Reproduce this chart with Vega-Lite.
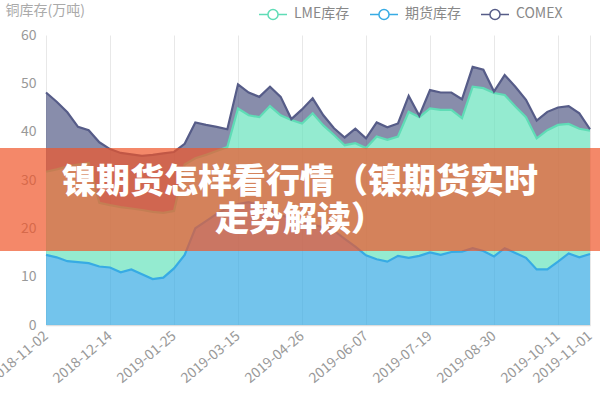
{
  "$schema": "https://vega.github.io/schema/vega-lite/v6.json",
  "width": 544,
  "height": 290,
  "autosize": {"type": "none"},
  "padding": {"left": 46, "top": 35, "right": 10, "bottom": 75},
  "background": "white",
  "config": {"view": {"stroke": null}, "font": "Noto Sans CJK SC"},
  "layer": [
    {
      "data": {"values": [
        {"date": "2018-11-02", "期货库存": 14.5, "LME库存": 17.2, "COMEX": 16.4},
        {"date": "2018-11-09", "期货库存": 14.0, "LME库存": 18.2, "COMEX": 14.0},
        {"date": "2018-11-16", "期货库存": 13.2, "LME库存": 19.6, "COMEX": 11.2},
        {"date": "2018-11-23", "期货库存": 13.0, "LME库存": 20.2, "COMEX": 7.8},
        {"date": "2018-11-30", "期货库存": 12.8, "LME库存": 20.7, "COMEX": 6.8},
        {"date": "2018-12-07", "期货库存": 12.1, "LME库存": 13.2, "COMEX": 12.5},
        {"date": "2018-12-14", "期货库存": 11.9, "LME库存": 12.9, "COMEX": 11.6},
        {"date": "2018-12-21", "期货库存": 10.9, "LME库存": 13.5, "COMEX": 11.2},
        {"date": "2018-12-28", "期货库存": 11.5, "LME库存": 12.6, "COMEX": 11.2},
        {"date": "2019-01-04", "期货库存": 10.5, "LME库存": 13.3, "COMEX": 11.2},
        {"date": "2019-01-11", "期货库存": 9.5, "LME库存": 13.9, "COMEX": 11.8},
        {"date": "2019-01-18", "期货库存": 9.8, "LME库存": 13.4, "COMEX": 12.3},
        {"date": "2019-01-25", "期货库存": 11.7, "LME库存": 11.9, "COMEX": 12.2},
        {"date": "2019-02-01", "期货库存": 14.5, "LME库存": 18.7, "COMEX": 4.3},
        {"date": "2019-02-15", "期货库存": 20.0, "LME库存": 14.5, "COMEX": 7.4},
        {"date": "2019-02-22", "期货库存": 21.5, "LME库存": 13.7, "COMEX": 6.2},
        {"date": "2019-03-01", "期货库存": 23.0, "LME库存": 13.0, "COMEX": 5.0},
        {"date": "2019-03-08", "期货库存": 24.2, "LME库存": 12.6, "COMEX": 3.7},
        {"date": "2019-03-15", "期货库存": 25.0, "LME库存": 19.8, "COMEX": 5.0},
        {"date": "2019-03-22", "期货库存": 25.4, "LME库存": 18.0, "COMEX": 4.7},
        {"date": "2019-03-29", "期货库存": 24.8, "LME库存": 18.2, "COMEX": 4.2},
        {"date": "2019-04-05", "期货库存": 23.8, "LME库存": 21.5, "COMEX": 4.0},
        {"date": "2019-04-12", "期货库存": 22.8, "LME库存": 20.6, "COMEX": 3.8},
        {"date": "2019-04-19", "期货库存": 22.0, "LME库存": 20.4, "COMEX": 0.2},
        {"date": "2019-04-26", "期货库存": 21.3, "LME库存": 20.4, "COMEX": 2.9},
        {"date": "2019-05-03", "期货库存": 20.8, "LME库存": 23.0, "COMEX": 3.1},
        {"date": "2019-05-10", "期货库存": 20.2, "LME库存": 21.1, "COMEX": 2.1},
        {"date": "2019-05-17", "期货库存": 19.5, "LME库存": 19.8, "COMEX": 1.4},
        {"date": "2019-05-24", "期货库存": 17.8, "LME库存": 19.4, "COMEX": 1.6},
        {"date": "2019-05-31", "期货库存": 16.2, "LME库存": 21.4, "COMEX": 3.0},
        {"date": "2019-06-07", "期货库存": 14.4, "LME库存": 22.2, "COMEX": 2.0},
        {"date": "2019-06-14", "期货库存": 13.6, "LME库存": 25.4, "COMEX": 2.9},
        {"date": "2019-06-21", "期货库存": 13.1, "LME库存": 25.2, "COMEX": 2.6},
        {"date": "2019-06-28", "期货库存": 14.3, "LME库存": 24.7, "COMEX": 2.7},
        {"date": "2019-07-05", "期货库存": 13.9, "LME库存": 30.2, "COMEX": 3.3},
        {"date": "2019-07-12", "期货库存": 14.3, "LME库存": 28.7, "COMEX": 0.3},
        {"date": "2019-07-19", "期货库存": 15.0, "LME库存": 29.8, "COMEX": 3.8},
        {"date": "2019-07-26", "期货库存": 14.5, "LME库存": 30.0, "COMEX": 3.6},
        {"date": "2019-08-02", "期货库存": 15.1, "LME库存": 29.4, "COMEX": 3.6},
        {"date": "2019-08-09", "期货库存": 15.2, "LME库存": 27.6, "COMEX": 3.9},
        {"date": "2019-08-16", "期货库存": 15.9, "LME库存": 33.4, "COMEX": 4.1},
        {"date": "2019-08-23", "期货库存": 15.3, "LME库存": 33.7, "COMEX": 3.8},
        {"date": "2019-08-30", "期货库存": 14.2, "LME库存": 33.8, "COMEX": 0.3},
        {"date": "2019-09-06", "期货库存": 15.9, "LME库存": 31.7, "COMEX": 4.1},
        {"date": "2019-09-13", "期货库存": 14.9, "LME库存": 30.3, "COMEX": 4.1},
        {"date": "2019-09-20", "期货库存": 13.9, "LME库存": 29.1, "COMEX": 3.6},
        {"date": "2019-09-27", "期货库存": 11.5, "LME库存": 27.1, "COMEX": 3.7},
        {"date": "2019-10-04", "期货库存": 11.5, "LME库存": 28.8, "COMEX": 3.8},
        {"date": "2019-10-11", "期货库存": 13.1, "LME库存": 28.3, "COMEX": 3.6},
        {"date": "2019-10-18", "期货库存": 14.8, "LME库存": 26.8, "COMEX": 3.7},
        {"date": "2019-10-25", "期货库存": 14.0, "LME库存": 26.6, "COMEX": 3.2},
        {"date": "2019-11-01", "期货库存": 14.7, "LME库存": 25.5, "COMEX": 0.3}
      ]},
      "transform": [{"fold": ["LME库存", "期货库存", "COMEX"], "as": ["series", "value"]}],
      "encoding": {
        "x": {
          "field": "date", "type": "ordinal",
          "scale": {"type": "point", "padding": 0},
          "axis": {
            "values": ["2018-11-02", "2018-12-14", "2019-01-25", "2019-03-15", "2019-04-26", "2019-06-07", "2019-07-19", "2019-08-30", "2019-10-11", "2019-11-01"],
            "title": null,
            "labelAngle": -40, "labelAlign": "right", "labelBaseline": "middle",
            "labelFontSize": 14, "labelColor": "#999999", "labelPadding": 9,
            "labelOverlap": false, "labelBound": false, "labelFlush": false,
            "ticks": false, "domainColor": "#dddddd", "domainWidth": 1.5,
            "grid": true, "gridColor": "#e8e8e8"
          }
        },
        "y": {
          "field": "value", "type": "quantitative", "stack": "zero",
          "scale": {"domain": [0, 60], "nice": false},
          "axis": {
            "values": [0, 10, 20, 30, 40, 50, 60],
            "grid": false, "ticks": false, "domain": false,
            "labelFontSize": 14, "labelColor": "#999999", "labelPadding": 10,
            "title": "铜库存(万吨)", "titleAngle": 0, "titleAlign": "left", "titleBaseline": "middle",
            "titleX": -41, "titleY": -25, "titleFontSize": 14, "titleFontWeight": "normal", "titleColor": "#aaaaaa"
          }
        }
      },
      "layer": [
        {
          "mark": {"type": "area", "fillOpacity": 0.7},
          "encoding": {
            "fill": {
              "field": "series", "type": "nominal",
              "scale": {"domain": ["期货库存", "LME库存", "COMEX"], "range": ["#37abe4", "#66e2bc", "#565c88"]},
              "legend": null
            }
          }
        },
        {
          "mark": {"type": "line", "strokeWidth": 2.2},
          "encoding": {
            "stroke": {
              "field": "series", "type": "nominal",
              "scale": {"domain": ["LME库存", "期货库存", "COMEX"], "range": ["#5fdcb6", "#37abe4", "#565c88"]},
              "legend": {
                "orient": "none", "legendX": 212, "legendY": -36, "direction": "horizontal",
                "title": null, "labelFontSize": 14, "labelColor": "#888888", "labelOffset": 6,
                "columnPadding": 17,
                "symbolType": "M-1,0L-0.36,0M0.36,0L1,0M-0.36,0A0.36,0.36,0,1,1,0.36,0A0.36,0.36,0,1,1,-0.36,0Z",
                "symbolSize": 784, "symbolStrokeWidth": 1.5, "symbolOpacity": 1
              }
            }
          }
        }
      ]
    },
    {
      "data": {"values": [{}]},
      "mark": {"type": "rect", "color": "#ef562a", "opacity": 0.7},
      "encoding": {
        "x": {"datum": -0.09, "type": "quantitative", "scale": {"domain": [0, 1], "nice": false, "zero": false}, "axis": null},
        "x2": {"datum": 1.03},
        "y": {"datum": 15.3, "type": "quantitative"},
        "y2": {"datum": 36.6}
      }
    },
    {
      "data": {"values": [{}]},
      "mark": {
        "type": "text", "text": ["镍期货怎样看行情（镍期货实时", "走势解读）"],
        "font": "Noto Sans CJK SC", "fontSize": 34, "fontWeight": 900,
        "color": "#ffffff", "align": "center", "baseline": "middle", "lineHeight": 38
      },
      "encoding": {
        "x": {"datum": 0.467, "type": "quantitative", "scale": {"domain": [0, 1], "nice": false, "zero": false}, "axis": null},
        "y": {"datum": 29.4, "type": "quantitative"}
      }
    }
  ],
  "resolve": {"scale": {"x": "independent"}}
}
